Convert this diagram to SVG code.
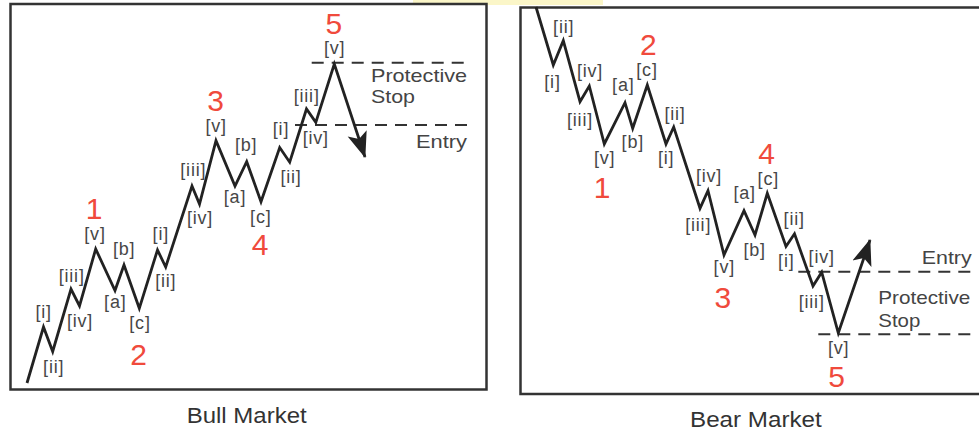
<svg xmlns="http://www.w3.org/2000/svg" width="979" height="432" viewBox="0 0 979 432">
<style>
.frame{fill:none;stroke:#333;stroke-width:2.5}
.wave{fill:none;stroke:#222;stroke-width:2.8;stroke-linejoin:miter;stroke-miterlimit:10}
.dash{fill:none;stroke:#333;stroke-width:2;stroke-dasharray:12 8}
.lb{font-family:"Liberation Sans",Arial,sans-serif;font-size:18px;fill:#474747;text-anchor:middle;letter-spacing:0.8px}
.num{font-family:"Liberation Sans",Arial,sans-serif;font-size:30px;fill:#f04a3c;text-anchor:middle}
.side{font-family:"Liberation Sans",Arial,sans-serif;font-size:19px;fill:#444}
.title{font-family:"Liberation Sans",Arial,sans-serif;font-size:22px;fill:#333}
</style>
<defs>
<marker id="ah" markerUnits="userSpaceOnUse" markerWidth="28" markerHeight="24" refX="25" refY="11" orient="auto">
<path d="M0,1 L26,11 L0,21 L6,11 Z" fill="#222"/>
</marker>
</defs>
<rect x="413" y="0" width="190" height="5" fill="#fbf6c8"/>

<g id="bull-panel">
<rect class="frame" x="10.5" y="4" width="476" height="385.5"/>
<path class="dash" d="M311.7,62.7 H468"/>
<path class="dash" d="M295,125 H468"/>
<path class="wave" marker-end="url(#ah)" d="M27,383 L43.5,327 L52.7,351.5 L71,289 L79.5,306 L95.7,249 L115,290.5 L124,265 L139.3,308.3 L157.5,250 L165.7,267 L192,186 L199.5,204 L216,140.7 L235,186 L246.7,161.7 L261,201.7 L279.7,147.5 L289.7,162.2 L306.5,109 L315.8,122.3 L334.3,64 L365,157"/>
<text class="lb" x="43.7" y="318.3">[i]</text>
<text class="lb" x="53.7" y="373">[ii]</text>
<text class="lb" x="71.7" y="282.3">[iii]</text>
<text class="lb" x="80" y="326.7">[iv]</text>
<text class="lb" x="95" y="240.3">[v]</text>
<text class="lb" x="115.3" y="307.7">[a]</text>
<text class="lb" x="124.2" y="255">[b]</text>
<text class="lb" x="140" y="329.3">[c]</text>
<text class="lb" x="160.8" y="240.3">[i]</text>
<text class="lb" x="165.8" y="287.3">[ii]</text>
<text class="lb" x="193.3" y="175.6">[iii]</text>
<text class="lb" x="200" y="223.8">[iv]</text>
<text class="lb" x="216.2" y="131.8">[v]</text>
<text class="lb" x="235" y="203.3">[a]</text>
<text class="lb" x="246.2" y="151">[b]</text>
<text class="lb" x="260.8" y="222.8">[c]</text>
<text class="lb" x="281" y="135.3">[i]</text>
<text class="lb" x="291" y="182.8">[ii]</text>
<text class="lb" x="306.7" y="101.7">[iii]</text>
<text class="lb" x="315.8" y="143.7">[iv]</text>
<text class="lb" x="334.7" y="54">[v]</text>
<text class="num" x="94" y="219">1</text>
<text class="num" x="138.7" y="365">2</text>
<text class="num" x="215.7" y="110.5">3</text>
<text class="num" x="260" y="255">4</text>
<text class="num" x="333.8" y="34">5</text>
<text class="side" x="371" y="82" textLength="96" lengthAdjust="spacingAndGlyphs">Protective</text>
<text class="side" x="371" y="103" textLength="44" lengthAdjust="spacingAndGlyphs">Stop</text>
<text class="side" x="416" y="148" textLength="51" lengthAdjust="spacingAndGlyphs">Entry</text>
<text class="title" x="186.7" y="422.5" textLength="120" lengthAdjust="spacingAndGlyphs">Bull Market</text>
</g>

<g id="bear-panel">
<path class="frame" d="M981,7.5 H520.5 V394 H981"/>
<path class="dash" d="M798.3,271.7 H975"/>
<path class="dash" d="M818.3,334.3 H975"/>
<path class="wave" marker-end="url(#ah)" d="M536,7 L553.3,65 L563.3,40.7 L580,101.7 L589.3,86 L604.3,144 L625,102.7 L632.7,128.3 L647.3,85 L666,144 L673.7,127 L700,208.3 L708,190.7 L724,255 L744,210.7 L755,235 L767.3,193.3 L786,246.5 L794.5,233.8 L813,286 L821.7,272.2 L838.3,333 L870,240"/>
<text class="lb" x="563.7" y="33">[ii]</text>
<text class="lb" x="552.5" y="88">[i]</text>
<text class="lb" x="590" y="77.3">[iv]</text>
<text class="lb" x="580" y="125.6">[iii]</text>
<text class="lb" x="604.7" y="163.7">[v]</text>
<text class="lb" x="623.3" y="90.9">[a]</text>
<text class="lb" x="632.8" y="148">[b]</text>
<text class="lb" x="647" y="75.6">[c]</text>
<text class="lb" x="675" y="120">[ii]</text>
<text class="lb" x="666.2" y="163.9">[i]</text>
<text class="lb" x="709" y="181.8">[iv]</text>
<text class="lb" x="698.2" y="231.3">[iii]</text>
<text class="lb" x="724.3" y="272.8">[v]</text>
<text class="lb" x="744.7" y="198.9">[a]</text>
<text class="lb" x="754.6" y="256.3">[b]</text>
<text class="lb" x="768.3" y="184.7">[c]</text>
<text class="lb" x="794.2" y="225.3">[ii]</text>
<text class="lb" x="786.3" y="266.8">[i]</text>
<text class="lb" x="821.7" y="262.8">[iv]</text>
<text class="lb" x="811.7" y="308">[iii]</text>
<text class="lb" x="838.7" y="354">[v]</text>
<text class="num" x="602.2" y="198.3">1</text>
<text class="num" x="648.3" y="55">2</text>
<text class="num" x="722.8" y="308.3">3</text>
<text class="num" x="766.7" y="164">4</text>
<text class="num" x="836.7" y="387.3">5</text>
<text class="side" x="921.7" y="264" textLength="50" lengthAdjust="spacingAndGlyphs">Entry</text>
<text class="side" x="878.3" y="304" textLength="92" lengthAdjust="spacingAndGlyphs">Protective</text>
<text class="side" x="878.3" y="327" textLength="42" lengthAdjust="spacingAndGlyphs">Stop</text>
<text class="title" x="690" y="426.7" textLength="131.7" lengthAdjust="spacingAndGlyphs">Bear Market</text>
</g>
</svg>
